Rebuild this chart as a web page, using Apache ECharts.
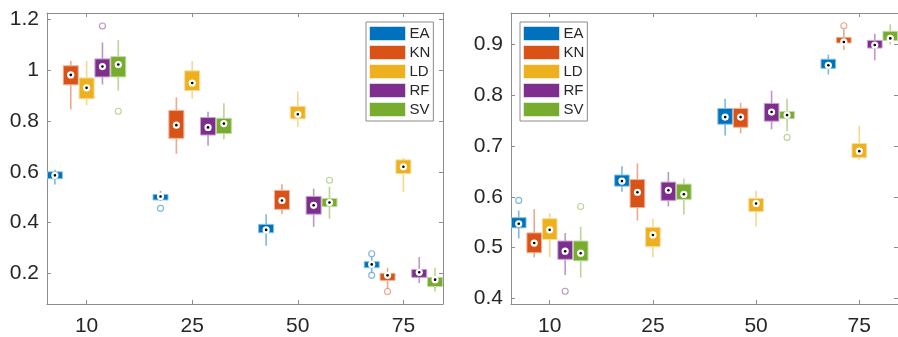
<!DOCTYPE html>
<html><head><meta charset="utf-8">
<script src="https://cdn.jsdelivr.net/npm/echarts@6/dist/echarts.min.js"></script>
<style>html,body{margin:0;padding:0;background:#fff}#c{width:898px;height:337px}</style>
</head><body><div id="c"></div>
<script>
// ---------- data ----------
const categories = ['10', '25', '50', '75'];
const methods = ['EA', 'KN', 'LD', 'RF', 'SV'];
const leftTicks = [0.2, 0.4, 0.6, 0.8, 1, 1.2];
const rightTicks = [0.4, 0.5, 0.6, 0.7, 0.8, 0.9];

// box stats per category: [min, q1, median, q3, max]
const leftEA = [[0.550,0.573,0.586,0.600,0.608],[0.485,0.489,0.503,0.511,0.525],[0.309,0.360,0.371,0.393,0.433],[0.204,0.222,0.235,0.246,0.264]];
const leftKN = [[0.846,0.943,0.982,1.018,1.037],[0.671,0.732,0.784,0.842,0.894],[0.433,0.452,0.487,0.527,0.551],[0.140,0.172,0.192,0.200,0.222]];
const leftLD = [[0.862,0.888,0.931,0.970,1.037],[0.888,0.920,0.950,0.998,1.037],[0.777,0.809,0.827,0.858,0.918],[0.521,0.593,0.620,0.647,0.655]];
const leftRF = [[0.944,0.974,1.015,1.045,1.110],[0.703,0.745,0.775,0.814,0.837],[0.383,0.433,0.468,0.503,0.534],[0.161,0.184,0.204,0.215,0.264]];
const leftSV = [[0.920,0.974,1.023,1.054,1.119],[0.728,0.751,0.790,0.811,0.870],[0.416,0.463,0.479,0.495,0.542],[0.128,0.148,0.175,0.184,0.222]];

const rightEA = [[0.518,0.539,0.547,0.559,0.573],[0.610,0.621,0.631,0.643,0.660],[0.721,0.743,0.757,0.774,0.793],[0.841,0.853,0.859,0.871,0.880]];
const rightKN = [[0.481,0.490,0.509,0.529,0.576],[0.553,0.579,0.609,0.634,0.666],[0.725,0.737,0.757,0.774,0.785],[0.889,0.903,0.905,0.914,0.930]];
const rightLD = [[0.481,0.516,0.535,0.557,0.568],[0.481,0.502,0.525,0.540,0.557],[0.541,0.571,0.587,0.597,0.612],[0.673,0.677,0.690,0.705,0.740]];
const rightRF = [[0.446,0.477,0.493,0.513,0.529],[0.581,0.593,0.613,0.629,0.649],[0.733,0.749,0.767,0.784,0.809],[0.869,0.893,0.899,0.908,0.921]];
const rightSV = [[0.441,0.474,0.489,0.513,0.541],[0.565,0.595,0.605,0.625,0.636],[0.729,0.754,0.761,0.768,0.793],[0.900,0.908,0.912,0.926,0.940]];

// outliers: [category, value]
const leftOutEA = [['25',0.456],['75',0.277],['75',0.192]];
const leftOutKN = [['75',0.128]];
const leftOutLD = [];
const leftOutRF = [['10',1.175]];
const leftOutSV = [['10',0.839],['50',0.567]];

const rightOutEA = [['10',0.593]];
const rightOutKN = [['75',0.937]];
const rightOutLD = [];
const rightOutRF = [['10',0.414]];
const rightOutSV = [['10',0.581],['50',0.717]];

// ---------- styling ----------
const colors = ['#0072BD','#D95319','#EDB120','#7E2F8E','#77AC30'];
const offsets = [-0.3, -0.15, 0, 0.15, 0.3];
const BOX_W = 0.142;
const FONT = '"Liberation Sans", Arial, Helvetica, sans-serif';
const AXIS_COLOR = '#8c8c8c';
const TEXT_COLOR = '#262626';

function rgba(hex, a) {
  const n = parseInt(hex.slice(1), 16);
  return 'rgba(' + ((n >> 16) & 255) + ',' + ((n >> 8) & 255) + ',' + (n & 255) + ',' + a + ')';
}
function lighten(hex, t) {
  const n = parseInt(hex.slice(1), 16);
  const r = (n >> 16) & 255, g = (n >> 8) & 255, b = n & 255;
  const f = c => Math.round(c + (255 - c) * t);
  return 'rgb(' + f(r) + ',' + f(g) + ',' + f(b) + ')';
}

function makeRender(color) {
  return function (params, api) {
    const x = api.value(0);
    const lo = api.coord([x, api.value(1)]);
    const q1 = api.coord([x, api.value(2)]);
    const md = api.coord([x, api.value(3)]);
    const q3 = api.coord([x, api.value(4)]);
    const hi = api.coord([x, api.value(5)]);
    const hw = api.size([BOX_W, 0])[0] / 2;
    const cs = params.coordSys;
    return {
      type: 'group',
      clipPath: { type: 'rect', shape: { x: cs.x, y: cs.y, width: cs.width, height: cs.height } },
      children: [
        { type: 'line', shape: { x1: lo[0], y1: lo[1], x2: hi[0], y2: hi[1] },
          style: { stroke: rgba(color, 0.5), lineWidth: 1.6 } },
        { type: 'rect', shape: { x: q3[0] - hw, y: q3[1], width: 2 * hw, height: q1[1] - q3[1] },
          style: { fill: color, stroke: lighten(color, 0.55), lineWidth: 1 } },
        { type: 'circle', shape: { cx: md[0], cy: md[1], r: 3.6 }, style: { fill: '#fff' } },
        { type: 'circle', shape: { cx: md[0], cy: md[1], r: 1.3 }, style: { fill: '#000' } }
      ]
    };
  };
}

const panels = [
  { boxes: [leftEA, leftKN, leftLD, leftRF, leftSV], outs: [leftOutEA, leftOutKN, leftOutLD, leftOutRF, leftOutSV] },
  { boxes: [rightEA, rightKN, rightLD, rightRF, rightSV], outs: [rightOutEA, rightOutKN, rightOutLD, rightOutRF, rightOutSV] }
];

const series = [];
panels.forEach((p, gi) => {
  methods.forEach((m, mi) => {
    const data = p.boxes[mi].map((s, ci) => [ci + 1 + offsets[mi]].concat(s));
    series.push({
      type: 'custom', name: m, xAxisIndex: gi * 2, yAxisIndex: gi * 2,
      itemStyle: { color: colors[mi] },
      renderItem: makeRender(colors[mi]),
      encode: { x: 0, y: [1, 2, 3, 4, 5] },
      data: data, z: 2
    });
  });
  methods.forEach((m, mi) => {
    const data = p.outs[mi].map(o => [categories.indexOf(o[0]) + 1 + offsets[mi], o[1]]);
    series.push({
      type: 'scatter', name: m + '_out', xAxisIndex: gi * 2, yAxisIndex: gi * 2,
      symbol: 'circle', symbolSize: 6,
      itemStyle: { color: 'rgba(255,255,255,0)', borderColor: rgba(colors[mi], 0.65), borderWidth: 1.1 },
      data: data, z: 3, silent: true
    });
  });
});

function xAxes(gi) {
  const common = {
    gridIndex: gi, type: 'value', min: 0.625, max: 4.375,
    splitLine: { show: false },
    axisLine: { show: true, lineStyle: { color: AXIS_COLOR, width: 1 } },
    axisTick: { show: true, inside: true, length: 4, customValues: [1, 2, 3, 4], lineStyle: { color: AXIS_COLOR } }
  };
  return [
    Object.assign({}, common, { position: 'bottom',
      axisLabel: { customValues: [1, 2, 3, 4], formatter: v => categories[Math.round(v) - 1],
        fontSize: 21, color: TEXT_COLOR, fontFamily: FONT, margin: 12 } }),
    Object.assign({}, common, { position: 'top', axisLabel: { show: false } })
  ];
}
function yAxes(gi, min, max, ticks) {
  const common = {
    gridIndex: gi, type: 'value', min: min, max: max,
    splitLine: { show: false },
    axisLine: { show: true, lineStyle: { color: AXIS_COLOR, width: 1 } },
    axisTick: { show: true, inside: true, length: 4, customValues: ticks, lineStyle: { color: AXIS_COLOR } }
  };
  return [
    Object.assign({}, common, { position: 'left',
      axisLabel: { customValues: ticks, formatter: v => String(v),
        fontSize: 21, color: TEXT_COLOR, fontFamily: FONT, margin: 8 } }),
    Object.assign({}, common, { position: 'right', axisLabel: { show: false } })
  ];
}

function legend(left) {
  return {
    left: left, top: 22, orient: 'vertical', data: methods,
    icon: 'rect', itemWidth: 36, itemHeight: 14, itemGap: 4,
    padding: [4, 3, 4, 3], borderColor: '#8c8c8c', borderWidth: 1,
    backgroundColor: '#fff',
    itemStyle: { borderColor: 'rgba(255,255,255,0.55)', borderWidth: 1 },
    textStyle: { fontSize: 15, color: TEXT_COLOR, fontFamily: FONT, padding: [0, 0, 0, -1] },
    selectedMode: false
  };
}

const chart = echarts.init(document.getElementById('c'), null, { renderer: 'canvas' });
chart.setOption({
  animation: false,
  backgroundColor: '#fff',
  grid: [
    { left: 47, top: 13, width: 396, height: 294 },
    { left: 511, top: 13, width: 395, height: 294 }
  ],
  xAxis: xAxes(0).concat(xAxes(1)),
  yAxis: yAxes(0, 0.079, 1.226, leftTicks).concat(yAxes(1, 0.389, 0.962, rightTicks)),
  legend: [legend(366), legend(520)],
  series: series
});
</script></body></html>
